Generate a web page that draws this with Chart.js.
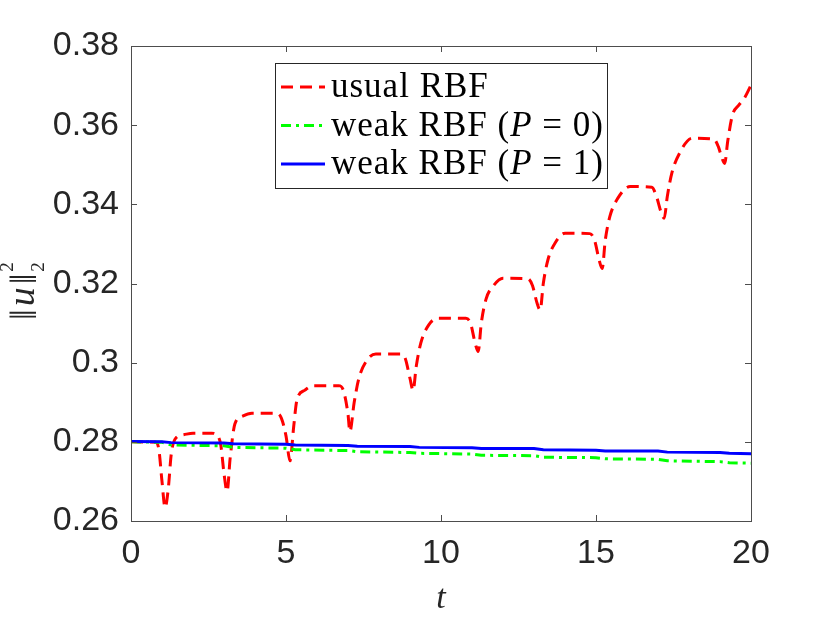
<!DOCTYPE html>
<html>
<head>
<meta charset="utf-8">
<script src="https://cdn.jsdelivr.net/npm/chart.js@4.4.0/dist/chart.umd.min.js"></script>
<style>
  html, body { margin: 0; padding: 0; background: #fff; }
  #wrap { width: 830px; height: 623px; position: relative; }
</style>
</head>
<body>
<div id="wrap"><canvas id="mycanvas"></canvas></div>
<script>
// usual RBF
var tRed = [
  0, 0.8, 0.9, 1.0, 1.1, 1.2, 1.3, 1.45, 1.7,
  2.0, 2.6, 2.8, 2.9, 3.0, 3.1, 3.2, 3.35, 3.6,
  3.9, 4.7, 4.85, 5.0, 5.13, 5.25, 5.35, 5.6,
  5.9, 6.7, 6.85, 7.0, 7.06, 7.2, 7.35, 7.6,
  7.9, 8.7, 8.85, 9.0, 9.1, 9.2, 9.35, 9.6,
  9.9, 10.8, 10.95, 11.1, 11.2, 11.3, 11.45, 11.7,
  12.0, 12.8, 12.95, 13.1, 13.2, 13.3, 13.45, 13.7,
  14.0, 14.8, 14.95, 15.1, 15.2, 15.3, 15.45, 15.7,
  16.1, 16.8, 16.95, 17.1, 17.2, 17.3, 17.45, 17.7,
  18.1, 18.8, 18.95, 19.05, 19.15, 19.25, 19.4, 19.6, 19.8, 20
];
var uRed = [
  0.2800, 0.2799, 0.2780, 0.2700, 0.2634, 0.2680, 0.2770, 0.2810, 0.2818,
  0.2822, 0.2822, 0.2815, 0.2790, 0.2720, 0.2675, 0.2760, 0.2845, 0.2865,
  0.2872, 0.2872, 0.2860, 0.2815, 0.2752, 0.2840, 0.2905, 0.2930,
  0.2942, 0.2942, 0.2930, 0.2870, 0.2826, 0.2900, 0.2960, 0.3005,
  0.3022, 0.3022, 0.3010, 0.2960, 0.2930, 0.2990, 0.3050, 0.3095,
  0.3112, 0.3112, 0.3100, 0.3050, 0.3028, 0.3100, 0.3160, 0.3195,
  0.3213, 0.3212, 0.3195, 0.3150, 0.3133, 0.3200, 0.3260, 0.3305,
  0.3327, 0.3326, 0.3310, 0.3260, 0.3238, 0.3310, 0.3370, 0.3415,
  0.3445, 0.3443, 0.3420, 0.3380, 0.3365, 0.3420, 0.3480, 0.3530,
  0.3567, 0.3565, 0.3545, 0.3520, 0.3503, 0.3560, 0.3625, 0.3650, 0.3670, 0.3701
];

// weak RBF
var tWeak = [0, 1.0, 1.3, 3.0, 3.3, 5.0, 5.3, 7.0, 7.3, 9.0, 9.3, 11.0, 11.3, 13.0, 13.3, 15.0, 15.3, 17.0, 17.3, 19.0, 19.3, 20];
var uWeakP0 = [0.2800, 0.2799, 0.2792, 0.2790, 0.2786, 0.2784, 0.2780, 0.2778, 0.2775, 0.2773, 0.2771, 0.2769, 0.2766, 0.2765, 0.2761, 0.2760, 0.2757, 0.2756, 0.2752, 0.2750, 0.2747, 0.2746];
var uWeakP1 = [0.2801, 0.2800, 0.2798, 0.2797, 0.2795, 0.2794, 0.2792, 0.2791, 0.2789, 0.2788, 0.2786, 0.2785, 0.2783, 0.2783, 0.2780, 0.2779, 0.2777, 0.2777, 0.2774, 0.2773, 0.2771, 0.2770];

var xTicks = [0, 5, 10, 15, 20];
var yTicks = [0.26, 0.28, 0.30, 0.32, 0.34, 0.36, 0.38];

function pts(t, u) {
  var out = [];
  for (var i = 0; i < t.length; i++) out.push({x: t[i], y: u[i]});
  return out;
}

// legend entries: [normal text, italic part, tail]
var legendRows = [
  ['usual RBF', '', ''],
  ['weak RBF (', 'P', ' = 0)'],
  ['weak RBF (', 'P', ' = 1)']
];

var serif = '"Liberation Serif", "Times New Roman", serif';

var frame = {
  id: 'frame',
  afterDatasetsDraw: function(chart) {
    var ctx = chart.ctx, a = chart.chartArea;
    var xs = chart.scales.x, ys = chart.scales.y;
    ctx.save();

    // box + inward ticks
    ctx.strokeStyle = '#4d4d4d';
    ctx.lineWidth = 1;
    ctx.setLineDash([]);
    ctx.strokeRect(a.left + 0.5, a.top + 0.5, a.right - a.left, a.bottom - a.top);
    ctx.beginPath();
    xTicks.forEach(function(v) {
      var p = Math.round(xs.getPixelForValue(v)) + 0.5;
      ctx.moveTo(p, a.bottom); ctx.lineTo(p, a.bottom - 6);
      ctx.moveTo(p, a.top); ctx.lineTo(p, a.top + 6);
    });
    yTicks.forEach(function(v) {
      var p = Math.round(ys.getPixelForValue(v)) + 0.5;
      ctx.moveTo(a.left, p); ctx.lineTo(a.left + 6, p);
      ctx.moveTo(a.right, p); ctx.lineTo(a.right - 6, p);
    });
    ctx.stroke();

    // legend
    var lx = a.left + 144, ly = a.top + 17, lw = 332, lh = 125;
    ctx.fillStyle = '#fff';
    ctx.fillRect(lx, ly, lw, lh);
    ctx.strokeStyle = '#262626';
    ctx.strokeRect(lx + 0.5, ly + 0.5, lw, lh);
    var order = [2, 1, 0];
    ctx.letterSpacing = '1px';
    legendRows.forEach(function(row, i) {
      var ds = chart.data.datasets[order[i]];
      var yy = ly + 24 + i * 38.5;
      ctx.strokeStyle = ds.borderColor;
      ctx.lineWidth = ds.borderWidth;
      ctx.setLineDash(ds.borderDash || []);
      ctx.beginPath();
      ctx.moveTo(lx + 6, yy); ctx.lineTo(lx + 50, yy);
      ctx.stroke();
      ctx.setLineDash([]);
      ctx.fillStyle = '#000';
      ctx.textBaseline = 'middle';
      ctx.textAlign = 'left';
      var x = lx + 56;
      ctx.font = '35px ' + serif;
      ctx.fillText(row[0], x, yy + 1);
      x += ctx.measureText(row[0]).width;
      if (row[1]) {
        ctx.font = 'italic 35px ' + serif;
        ctx.fillText(row[1], x, yy + 1);
        x += ctx.measureText(row[1]).width;
        ctx.font = '35px ' + serif;
        ctx.fillText(row[2], x, yy + 1);
      }
    });
    ctx.letterSpacing = '0px';

    // x label
    ctx.fillStyle = '#262626';
    ctx.font = 'italic 34px ' + serif;
    ctx.textAlign = 'center';
    ctx.textBaseline = 'alphabetic';
    ctx.fillText('t', (a.left + a.right) / 2, 608);

    // y label ||u||_2^2
    ctx.translate(34, 320);
    ctx.rotate(-Math.PI / 2);
    ctx.textAlign = 'left';
    var px = 0;
    ctx.font = '38px ' + serif;
    ctx.fillText('\u2016', px, 2);
    px += ctx.measureText('\u2016').width + 3;
    ctx.font = 'italic 38px ' + serif;
    ctx.fillText('u', px, 0);
    px += ctx.measureText('u').width + 3;
    ctx.font = '38px ' + serif;
    ctx.fillText('\u2016', px, 2);
    px += ctx.measureText('\u2016').width + 2;
    ctx.font = '19px ' + serif;
    ctx.fillText('2', px, -21);
    ctx.fillText('2', px, 10);
    ctx.restore();
  }
};

var chartdata = {
  datasets: [
    {
      label: 'weak RBF (P = 1)',
      data: pts(tWeak, uWeakP1),
      borderColor: '#0000ff',
      borderWidth: 3,
      order: 0
    },
    {
      label: 'weak RBF (P = 0)',
      data: pts(tWeak, uWeakP0),
      borderColor: '#00ff00',
      borderWidth: 3,
      borderDash: [10, 5, 3, 5],
      order: 1
    },
    {
      label: 'usual RBF',
      data: pts(tRed, uRed),
      borderColor: '#ff0000',
      borderWidth: 3,
      borderDash: [12, 7],
      cubicInterpolationMode: 'monotone',
      order: 2
    }
  ]
};

var ctx = document.getElementById('mycanvas');
var lineChart = new Chart(ctx, {
  type: 'line',
  data: chartdata,
  options: {
    responsive: true,
    maintainAspectRatio: false,
    animation: false,
    layout: { padding: { left: 0, top: 46, right: 79, bottom: 0 } },
    elements: { point: { radius: 0 }, line: { fill: false } },
    plugins: { legend: { display: false }, tooltip: { enabled: false } },
    scales: {
      x: {
        type: 'linear',
        min: 0, max: 20,
        grid: { display: false, drawTicks: false },
        border: { display: false },
        afterFit: function(s) { s.height = 102; },
        afterBuildTicks: function(s) { s.ticks = xTicks.map(function(v) { return {value: v}; }); },
        ticks: {
          padding: 12,
          color: '#262626',
          font: { family: '"Liberation Sans", Arial, sans-serif', size: 34 },
          callback: function(v) { return String(v); }
        }
      },
      y: {
        type: 'linear',
        min: 0.26, max: 0.38,
        grid: { display: false, drawTicks: false },
        border: { display: false },
        afterFit: function(s) { s.width = 131; },
        afterBuildTicks: function(s) { s.ticks = yTicks.map(function(v) { return {value: v}; }); },
        ticks: {
          padding: 12,
          color: '#262626',
          font: { family: '"Liberation Sans", Arial, sans-serif', size: 34 },
          callback: function(v) { return String(parseFloat(v.toFixed(4))); }
        }
      }
    }
  },
  plugins: [frame]
});
</script>
</body>
</html>
